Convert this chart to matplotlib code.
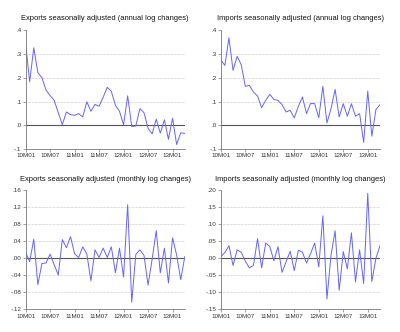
import matplotlib
matplotlib.use('Agg')
import matplotlib.pyplot as plt

plt.rcParams['font.family'] = ['Liberation Sans', 'DejaVu Sans']

# monthly observations 2010M01 .. 2013M04
months = list(range(40))
tick_pos = [0, 6, 12, 18, 24, 30, 36]
tick_labels = ['10M01', '10M07', '11M01', '11M07', '12M01', '12M07', '13M01']

exports_annual = [0.343, 0.183, 0.326, 0.222, 0.200, 0.148, 0.125, 0.105, 0.053, 0.003,
                  0.056, 0.045, 0.042, 0.049, 0.035, 0.099, 0.059, 0.088, 0.080, 0.118,
                  0.160, 0.143, 0.084, 0.059, 0.002, 0.124, -0.005, -0.003, 0.070, 0.053,
                  -0.013, -0.036, 0.026, -0.033, 0.023, -0.059, 0.030, -0.081, -0.032, -0.034]
imports_annual = [0.274, 0.252, 0.368, 0.231, 0.290, 0.255, 0.164, 0.168, 0.140, 0.123,
                  0.074, 0.105, 0.130, 0.109, 0.105, 0.087, 0.056, 0.063, 0.031, 0.080,
                  0.119, 0.049, 0.092, 0.091, 0.032, 0.164, 0.010, 0.070, 0.151, 0.035,
                  0.091, 0.038, 0.091, 0.038, 0.049, -0.072, 0.144, -0.046, 0.066, 0.087]
exports_monthly = [0.014, -0.008, 0.045, -0.062, -0.012, -0.011, 0.010, -0.015, -0.039, 0.044,
                   0.025, 0.051, 0.011, 0.002, 0.027, 0.010, -0.053, 0.020, 0.002, 0.024,
                   0.002, 0.027, -0.034, 0.024, -0.044, 0.126, -0.103, 0.009, 0.020, 0.007,
                   -0.063, -0.002, 0.065, -0.034, 0.024, -0.058, 0.048, 0.008, -0.050, 0.004]
imports_monthly = [0.005, 0.017, 0.037, -0.021, 0.025, 0.018, -0.008, -0.028, -0.021, 0.058,
                   -0.028, 0.045, 0.035, -0.007, 0.034, -0.041, -0.010, 0.021, -0.036, 0.024,
                   0.018, -0.014, 0.014, 0.045, -0.025, 0.125, -0.119, 0.009, 0.081, -0.094,
                   0.020, -0.031, 0.075, -0.069, 0.025, -0.074, 0.191, -0.068, 0.000, 0.037]

panels = [
    ('Exports seasonally adjusted (annual log changes)', exports_annual,
     [0.4, 0.3, 0.2, 0.1, 0.0, -0.1], ['.4', '.3', '.2', '.1', '.0', '-.1']),
    ('Imports seasonally adjusted (annual log changes)', imports_annual,
     [0.4, 0.3, 0.2, 0.1, 0.0, -0.1], ['.4', '.3', '.2', '.1', '.0', '-.1']),
    ('Exports seasonally adjusted (monthly log changes)', exports_monthly,
     [0.16, 0.12, 0.08, 0.04, 0.0, -0.04, -0.08, -0.12],
     ['.16', '.12', '.08', '.04', '.00', '-.04', '-.08', '-.12']),
    ('Imports seasonally adjusted (monthly log changes)', imports_monthly,
     [0.20, 0.15, 0.10, 0.05, 0.0, -0.05, -0.10, -0.15],
     ['.20', '.15', '.10', '.05', '.00', '-.05', '-.10', '-.15']),
]

# axes boxes in figure fractions: left, bottom, width, height
boxes = [
    (0.064, 0.551, 0.398, 0.358),
    (0.552, 0.551, 0.398, 0.358),
    (0.064, 0.068, 0.398, 0.359),
    (0.552, 0.068, 0.398, 0.359),
]

fig = plt.figure(figsize=(4.0, 3.32), dpi=100)
fig.patch.set_facecolor('white')

for (title, values, yt, ylab), box in zip(panels, boxes):
    ax = fig.add_axes(box)
    ax.set_xlim(0, 39)
    ax.set_ylim(yt[-1], yt[0])
    for y in yt[1:-1]:
        if y == 0:
            ax.axhline(y, color='#555555', lw=0.8, zorder=1)
        else:
            ax.axhline(y, color='#bbbbbb', lw=0.5, ls=(0, (1, 1)), zorder=1)
    ax.plot(months, values, color='#6464ff', lw=0.7, zorder=2)
    ax.set_yticks(yt)
    ax.set_yticklabels(ylab)
    ax.set_xticks(tick_pos)
    ax.set_xticklabels(tick_labels)
    ax.tick_params(axis='both', labelsize=4.5, length=2, width=0.5,
                   color='#777777', labelcolor='#333333', pad=1)
    for side in ['top', 'right']:
        ax.spines[side].set_visible(False)
    for side in ['left', 'bottom']:
        ax.spines[side].set_color('#777777')
        ax.spines[side].set_linewidth(0.6)
    ax.set_title(title, fontsize=5.4, pad=7, color='#111111')

fig.savefig('out.png', dpi=100, facecolor='white')
